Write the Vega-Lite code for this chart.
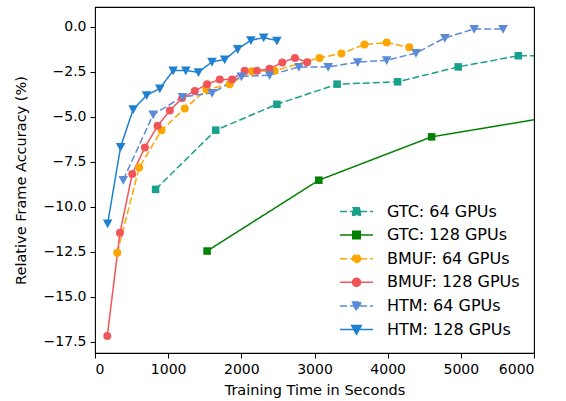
{
  "$schema": "https://vega.github.io/schema/vega-lite/v6.json",
  "width": 439,
  "height": 346,
  "autosize": {"type": "none"},
  "padding": {"left": 95, "top": 7, "right": 32, "bottom": 48},
  "background": "white",
  "config": {
    "view": {"stroke": "black", "strokeWidth": 1.1},
    "font": "DejaVu Sans",
    "axis": {"grid": false, "domain": false, "tickColor": "black", "tickSize": 5, "tickWidth": 1, "labelColor": "black", "labelFont": "DejaVu Sans", "labelFontSize": 14, "labelPadding": 4, "titleFont": "DejaVu Sans", "titleFontSize": 14.5, "titleFontWeight": "normal", "titleColor": "black"},
    "legend": {"labelFont": "DejaVu Sans", "labelFontSize": 16, "labelColor": "black"}
  },
  "data": {"values": [
    {"s": "GTC: 64 GPUs", "t": 828, "a": -9.03},
    {"s": "GTC: 64 GPUs", "t": 1650, "a": -5.74},
    {"s": "GTC: 64 GPUs", "t": 2486, "a": -4.30},
    {"s": "GTC: 64 GPUs", "t": 3309, "a": -3.18},
    {"s": "GTC: 64 GPUs", "t": 4136, "a": -3.05},
    {"s": "GTC: 64 GPUs", "t": 4964, "a": -2.22},
    {"s": "GTC: 64 GPUs", "t": 5786, "a": -1.60},
    {"s": "GTC: 64 GPUs", "t": 6610, "a": -1.58},
    {"s": "GTC: 128 GPUs", "t": 1532, "a": -12.46},
    {"s": "GTC: 128 GPUs", "t": 3059, "a": -8.52},
    {"s": "GTC: 128 GPUs", "t": 4600, "a": -6.11},
    {"s": "GTC: 128 GPUs", "t": 6150, "a": -5.06},
    {"s": "BMUF: 64 GPUs", "t": 304, "a": -12.56},
    {"s": "BMUF: 64 GPUs", "t": 604, "a": -7.82},
    {"s": "BMUF: 64 GPUs", "t": 909, "a": -5.74},
    {"s": "BMUF: 64 GPUs", "t": 1227, "a": -4.54},
    {"s": "BMUF: 64 GPUs", "t": 1523, "a": -3.48},
    {"s": "BMUF: 64 GPUs", "t": 1841, "a": -3.18},
    {"s": "BMUF: 64 GPUs", "t": 2145, "a": -2.46},
    {"s": "BMUF: 64 GPUs", "t": 2455, "a": -2.44},
    {"s": "BMUF: 64 GPUs", "t": 3068, "a": -1.72},
    {"s": "BMUF: 64 GPUs", "t": 3368, "a": -1.48},
    {"s": "BMUF: 64 GPUs", "t": 3682, "a": -0.98},
    {"s": "BMUF: 64 GPUs", "t": 3986, "a": -0.87},
    {"s": "BMUF: 64 GPUs", "t": 4295, "a": -1.13},
    {"s": "BMUF: 128 GPUs", "t": 168, "a": -17.18},
    {"s": "BMUF: 128 GPUs", "t": 341, "a": -11.45},
    {"s": "BMUF: 128 GPUs", "t": 509, "a": -8.17},
    {"s": "BMUF: 128 GPUs", "t": 682, "a": -6.70},
    {"s": "BMUF: 128 GPUs", "t": 855, "a": -5.50},
    {"s": "BMUF: 128 GPUs", "t": 1023, "a": -4.65},
    {"s": "BMUF: 128 GPUs", "t": 1191, "a": -3.95},
    {"s": "BMUF: 128 GPUs", "t": 1364, "a": -3.56},
    {"s": "BMUF: 128 GPUs", "t": 1532, "a": -3.18},
    {"s": "BMUF: 128 GPUs", "t": 1705, "a": -2.92},
    {"s": "BMUF: 128 GPUs", "t": 1873, "a": -2.92},
    {"s": "BMUF: 128 GPUs", "t": 2045, "a": -2.44},
    {"s": "BMUF: 128 GPUs", "t": 2214, "a": -2.44},
    {"s": "BMUF: 128 GPUs", "t": 2386, "a": -2.33},
    {"s": "BMUF: 128 GPUs", "t": 2559, "a": -1.97},
    {"s": "BMUF: 128 GPUs", "t": 2732, "a": -1.72},
    {"s": "BMUF: 128 GPUs", "t": 2900, "a": -1.96},
    {"s": "HTM: 64 GPUs", "t": 386, "a": -8.51},
    {"s": "HTM: 64 GPUs", "t": 795, "a": -4.87},
    {"s": "HTM: 64 GPUs", "t": 1196, "a": -3.89},
    {"s": "HTM: 64 GPUs", "t": 1600, "a": -3.67},
    {"s": "HTM: 64 GPUs", "t": 2000, "a": -2.75},
    {"s": "HTM: 64 GPUs", "t": 2386, "a": -2.68},
    {"s": "HTM: 64 GPUs", "t": 2786, "a": -2.22},
    {"s": "HTM: 64 GPUs", "t": 3187, "a": -2.22},
    {"s": "HTM: 64 GPUs", "t": 3590, "a": -1.96},
    {"s": "HTM: 64 GPUs", "t": 3986, "a": -1.85},
    {"s": "HTM: 64 GPUs", "t": 4387, "a": -1.45},
    {"s": "HTM: 64 GPUs", "t": 4782, "a": -0.61},
    {"s": "HTM: 64 GPUs", "t": 5182, "a": -0.11},
    {"s": "HTM: 64 GPUs", "t": 5577, "a": -0.11},
    {"s": "HTM: 128 GPUs", "t": 173, "a": -10.93},
    {"s": "HTM: 128 GPUs", "t": 350, "a": -6.67},
    {"s": "HTM: 128 GPUs", "t": 522, "a": -4.58},
    {"s": "HTM: 128 GPUs", "t": 705, "a": -3.80},
    {"s": "HTM: 128 GPUs", "t": 886, "a": -3.42},
    {"s": "HTM: 128 GPUs", "t": 1068, "a": -2.42},
    {"s": "HTM: 128 GPUs", "t": 1241, "a": -2.42},
    {"s": "HTM: 128 GPUs", "t": 1414, "a": -2.52},
    {"s": "HTM: 128 GPUs", "t": 1599, "a": -1.94},
    {"s": "HTM: 128 GPUs", "t": 1773, "a": -1.81},
    {"s": "HTM: 128 GPUs", "t": 1950, "a": -1.23},
    {"s": "HTM: 128 GPUs", "t": 2131, "a": -0.74},
    {"s": "HTM: 128 GPUs", "t": 2305, "a": -0.59},
    {"s": "HTM: 128 GPUs", "t": 2486, "a": -0.76}
  ]},
  "encoding": {
    "x": {"field": "t", "type": "quantitative", "title": "Training Time in Seconds",
      "scale": {"domain": [0, 6000], "nice": false, "zero": false},
      "axis": {"values": [0, 1000, 2000, 3000, 4000, 5000, 6000], "format": "d", "titleY": 37, "titleBaseline": "middle"}},
    "y": {"field": "a", "type": "quantitative", "title": "Relative Frame Accuracy (%)",
      "scale": {"domain": [-18.13, 1.11], "nice": false, "zero": false},
      "axis": {"values": [-17.5, -15, -12.5, -10, -7.5, -5, -2.5, 0], "format": ".1f", "titleX": -73.5, "titleY": 173, "titleBaseline": "middle", "titleAlign": "center", "titleAngle": -90}},
    "color": {"field": "s", "type": "nominal",
      "scale": {"domain": ["GTC: 64 GPUs", "GTC: 128 GPUs", "BMUF: 64 GPUs", "BMUF: 128 GPUs", "HTM: 64 GPUs", "HTM: 128 GPUs"],
                "range": ["#17a08a", "#008000", "#ffa500", "#f0555a", "#5a8ad8", "#1f80d0"]},
      "legend": {"title": null, "orient": "none", "legendX": 252.5, "legendY": 195.5, "padding": 0, "rowPadding": 6.6,
        "symbolSize": 256, "symbolStrokeWidth": 1.5, "labelOffset": 21.5, "labelFontSize": 16,
        "encode": {"symbols": {"update": {
          "shape": {"signal": "'M-2.06,0L2.06,0' + (indexof(datum.value,'GTC')>=0 ? 'M-0.47,-0.47L0.47,-0.47L0.47,0.47L-0.47,0.47Z' : indexof(datum.value,'BMUF')>=0 ? 'M0.5,0C0.5,0.276,0.276,0.5,0,0.5C-0.276,0.5,-0.5,0.276,-0.5,0C-0.5,-0.276,-0.276,-0.5,0,-0.5C0.276,-0.5,0.5,-0.276,0.5,0Z' : 'M-0.6,-0.5L0.6,-0.5L0,0.6Z')"},
          "strokeDash": {"signal": "indexof(datum.value,'64')>=0 ? [7,3] : [1,0]"},
          "fill": {"scale": "color", "field": "value"},
          "stroke": {"scale": "color", "field": "value"},
          "strokeWidth": {"value": 1.5},
          "opacity": {"value": 1},
          "fillOpacity": {"value": 1},
          "strokeOpacity": {"value": 1}
        }}}}}
  },
  "layer": [
    {
      "mark": {"type": "line", "strokeWidth": 1.5, "clip": true},
      "encoding": {
        "strokeDash": {"field": "s", "type": "nominal",
          "scale": {"domain": ["GTC: 64 GPUs", "GTC: 128 GPUs", "BMUF: 64 GPUs", "BMUF: 128 GPUs", "HTM: 64 GPUs", "HTM: 128 GPUs"],
                    "range": [[7, 3], [1, 0], [7, 3], [1, 0], [7, 3], [1, 0]]},
          "legend": null}
      }
    },
    {
      "transform": [{"filter": {"field": "s", "oneOf": ["GTC: 64 GPUs", "GTC: 128 GPUs"]}}],
      "mark": {"type": "point", "filled": true, "opacity": 1, "size": 64, "clip": true, "shape": "M-0.94,-0.94L0.94,-0.94L0.94,0.94L-0.94,0.94Z"},
      "encoding": {}
    },
    {
      "transform": [{"filter": {"field": "s", "oneOf": ["BMUF: 64 GPUs", "BMUF: 128 GPUs"]}}],
      "mark": {"type": "point", "filled": true, "opacity": 1, "size": 64, "clip": true, "shape": "circle"},
      "encoding": {}
    },
    {
      "transform": [{"filter": {"field": "s", "oneOf": ["HTM: 64 GPUs", "HTM: 128 GPUs"]}}],
      "mark": {"type": "point", "filled": true, "opacity": 1, "size": 64, "clip": true, "shape": "M-1.2,-1L1.2,-1L0,1.2Z"},
      "encoding": {}
    }
  ]
}
